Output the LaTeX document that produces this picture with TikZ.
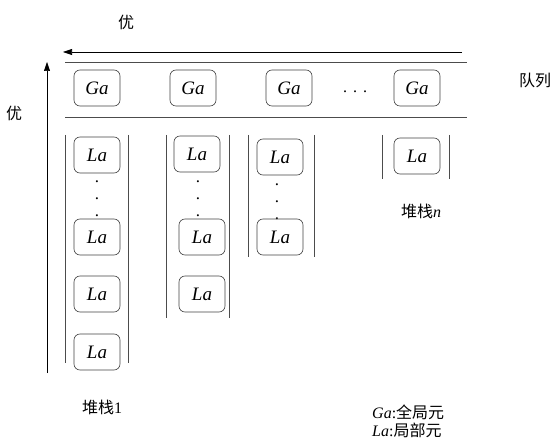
\documentclass[tikz,border=0pt]{standalone}
\usepackage{fontspec}
\setmainfont{Liberation Serif}
\newfontfamily\cjk{Noto Sans CJK SC}
\usetikzlibrary{arrows.meta}
\tikzset{
  elem/.style={draw=black!75, rounded corners=6pt, minimum width=46pt, minimum height=36pt, inner sep=0pt, font=\fontsize{19}{19}\selectfont\itshape, line width=0.6pt},
  rule/.style={draw=black!70, line width=0.6pt},
  lbl/.style={font=\fontsize{16}{18}\selectfont, inner sep=0pt},
  vdots/.style={font=\fontsize{17}{16}\selectfont, inner sep=0pt, align=center},
}
\begin{document}
\begin{tikzpicture}[x=1pt,y=-1pt]
\useasboundingbox (0,0) rectangle (557,446);
% labels
\node[lbl] (youTop) at (126,22) {\cjk 优};
\node[lbl] (youLeft) at (14,113) {\cjk 优};
\node[lbl] (queue) at (535,80) {\cjk 队列};
% arrows
\coordinate (hs) at (462,52); \coordinate (he) at (63,52);
\draw[rule, draw=black, -{Triangle[length=9pt,width=6pt]}] (hs) -- (he);
\coordinate (vs) at (47,373); \coordinate (ve) at (47,62);
\draw[rule, draw=black, -{Triangle[length=9pt,width=6pt]}] (vs) -- (ve);
% queue lines
\coordinate (q1a) at (65,62); \coordinate (q1b) at (467,62);
\coordinate (q2a) at (65,117); \coordinate (q2b) at (467,117);
\draw[rule] (q1a) -- (q1b);
\draw[rule] (q2a) -- (q2b);
% queue elements
\node[elem] (g1) at (97,88) {Ga};
\node[elem] (g2) at (193,88) {Ga};
\node[elem] (g3) at (289,88) {Ga};
\node[lbl] (gdots) at (355,92) {.\hspace{6pt}.\hspace{6pt}.};
\node[elem] (g4) at (417,88) {Ga};
% stack 1
\coordinate (s1la) at (65,135); \coordinate (s1lb) at (65,363);
\coordinate (s1ra) at (128,135); \coordinate (s1rb) at (128,363);
\draw[rule] (s1la) -- (s1lb); \draw[rule] (s1ra) -- (s1rb);
\node[elem] (a1) at (97,155) {La};
\node[vdots] (d1) at (97,199) {.\\[1pt].\\[1pt].};
\node[elem] (a2) at (97,237) {La};
\node[elem] (a3) at (97,294) {La};
\node[elem] (a4) at (97,352) {La};
\node[lbl] (st1) at (102,407) {\cjk 堆栈\rmfamily 1};
% stack 2
\coordinate (s2la) at (166,135); \coordinate (s2lb) at (166,318);
\coordinate (s2ra) at (229,135); \coordinate (s2rb) at (229,318);
\draw[rule] (s2la) -- (s2lb); \draw[rule] (s2ra) -- (s2rb);
\node[elem] (b1) at (197,154) {La};
\node[vdots] (d2) at (198,199) {.\\[1pt].\\[1pt].};
\node[elem] (b2) at (202,237) {La};
\node[elem] (b3) at (202,294) {La};
% stack 3
\coordinate (s3la) at (248,135); \coordinate (s3lb) at (248,257);
\coordinate (s3ra) at (314,135); \coordinate (s3rb) at (314,257);
\draw[rule] (s3la) -- (s3lb); \draw[rule] (s3ra) -- (s3rb);
\node[elem] (c1) at (280,157) {La};
\node[vdots] (d3) at (277,202) {.\\[1pt].\\[1pt].};
\node[elem] (c2) at (280,237) {La};
% stack n
\coordinate (snla) at (382,135); \coordinate (snlb) at (382,179);
\coordinate (snra) at (449,135); \coordinate (snrb) at (449,179);
\draw[rule] (snla) -- (snlb); \draw[rule] (snra) -- (snrb);
\node[elem] (n1) at (417,156) {La};
\node[lbl] (stn) at (421,211) {\cjk 堆栈\rmfamily\itshape n};
% legend
\node[lbl, anchor=west] (leg1) at (372,412) {\itshape Ga\upshape :\cjk 全局元};
\node[lbl, anchor=west] (leg2) at (372,430) {\itshape La\upshape :\cjk 局部元};
\end{tikzpicture}
\end{document}
